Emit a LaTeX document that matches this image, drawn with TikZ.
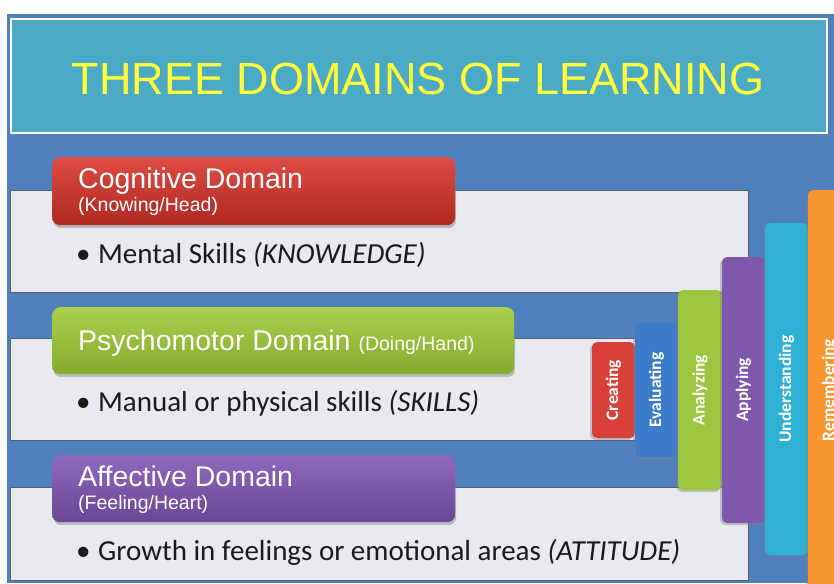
\documentclass[tikz,border=0pt]{standalone}
\usepackage{fontspec}
\setmainfont{Liberation Sans}
\newfontfamily\calib{Carlito}
\usetikzlibrary{shadows}
\definecolor{bgblue}{HTML}{4F7FBD}
\definecolor{titlefill}{HTML}{4AA9C5}
\definecolor{titletext}{HTML}{FFFF3A}
\definecolor{panelfill}{HTML}{E8EAF0}
\definecolor{panelline}{HTML}{56606E}
\definecolor{cogtop}{HTML}{DE4C44}
\definecolor{cogbot}{HTML}{AE2820}
\definecolor{psytop}{HTML}{ABD04C}
\definecolor{psybot}{HTML}{84AA2E}
\definecolor{afftop}{HTML}{8E68BE}
\definecolor{affbot}{HTML}{6A4694}
\definecolor{ccreat}{HTML}{D8403A}
\definecolor{ceval}{HTML}{3B7CCB}
\definecolor{canal}{HTML}{9CC640}
\definecolor{cappl}{HTML}{7F58AC}
\definecolor{cunder}{HTML}{2FB1D6}
\definecolor{cremem}{HTML}{F7962E}
\definecolor{bodytext}{HTML}{1A1A1A}
\tikzset{
  panelbox/.style={draw=panelline, line width=1pt, fill=panelfill, anchor=north west, inner sep=0pt},
  hdrbox/.style={rounded corners=8pt, anchor=north west, inner sep=0pt,
     drop shadow={shadow xshift=1pt, shadow yshift=-3pt, opacity=0.45}},
  hdrtext/.style={anchor=base west, inner sep=0pt, text=white, font=\fontsize{28.5}{32}\selectfont},
  hdrsub/.style={anchor=base west, inner sep=0pt, text=white, font=\fontsize{19.5}{22}\selectfont},
  bodyline/.style={anchor=base west, inner sep=0pt, text=bodytext, font=\calib\fontsize{29}{32}\selectfont},
  barbox/.style={rounded corners=5pt, inner sep=0pt, minimum width=43pt,
     drop shadow={shadow xshift=-2pt, shadow yshift=-2pt, opacity=0.4}},
  bartext/.style={rotate=90, inner sep=0pt, text=white, font=\calib\bfseries\fontsize{17.5}{20}\selectfont}
}
\begin{document}
\begin{tikzpicture}[x=1pt,y=-1pt]
\useasboundingbox (0,0) rectangle (834,583);
\fill[white] (0,0) rectangle (834,583);
\node[fill=bgblue, anchor=north west, inner sep=0pt, minimum width=827pt, minimum height=569pt] (bg) at (7,14) {};
% title
\node[draw=white, line width=2pt, fill=titlefill, anchor=north west, inner sep=0pt,
      minimum width=816pt, minimum height=114pt,
      drop shadow={shadow xshift=1pt, shadow yshift=-2pt, opacity=0.4}] (titlebox) at (10,18) {};
\node[anchor=base, inner sep=0pt, text=titletext, font=\fontsize{45}{50}\selectfont] (title) at (418,95) {THREE DOMAINS OF LEARNING};
% panels
\node[panelbox, minimum width=738pt, minimum height=102pt] (p1) at (10,190) {};
\node[panelbox, minimum width=738pt, minimum height=102pt] (p2) at (10,338) {};
\node[panelbox, minimum width=738pt, minimum height=93pt] (p3) at (10,487) {};
% headers
\node[hdrbox, top color=cogtop, bottom color=cogbot, minimum width=403pt, minimum height=68pt] (cog) at (52,157) {};
\node[hdrtext] (cogt) at (78,188) {Cognitive Domain};
\node[hdrsub] (cogs) at (78,211) {(Knowing/Head)};
\node[hdrbox, top color=psytop, bottom color=psybot, minimum width=462pt, minimum height=67pt] (psy) at (52,307) {};
\node[hdrtext] (psyt) at (78,350) {Psychomotor Domain {\fontsize{19.5}{22}\selectfont (Doing/Hand)}};
\node[hdrbox, top color=afftop, bottom color=affbot, minimum width=403pt, minimum height=67pt] (aff) at (52,455) {};
\node[hdrtext] (afft) at (78,486) {Affective Domain};
\node[hdrsub] (affs) at (78,509) {(Feeling/Heart)};
% body lines
\node[bodyline] (b1) at (76,263) {•\hspace{7.5pt}Mental Skills \textit{(KNOWLEDGE)}};
\node[bodyline] (b2) at (76,411) {•\hspace{7.5pt}Manual or physical skills \textit{(SKILLS)}};
\node[bodyline] (b3) at (76,560) {•\hspace{7.5pt}Growth in feelings or emotional areas \textit{(ATTITUDE)}};
% bars
\node[barbox, fill=ccreat, minimum height=96pt] (creat) at (613.5,390) {};
\node[bartext] (creatt) at (creat.center) {Creating};
\node[barbox, fill=ceval, minimum height=134pt] (eval) at (656.5,390) {};
\node[bartext] (evalt) at (eval.center) {Evaluating};
\node[barbox, fill=canal, minimum width=44pt, minimum height=200pt] (anal) at (700,390) {};
\node[bartext] (analt) at (anal.center) {Analyzing};
\node[barbox, fill=cappl, minimum height=266pt] (appl) at (743.5,390) {};
\node[bartext] (applt) at (appl.center) {Applying};
\node[barbox, fill=cunder, minimum height=332pt] (under) at (786.5,389) {};
\node[bartext] (undert) at (under.center) {Understanding};
\node[barbox, fill=cremem, minimum height=400pt] (remem) at (829.5,390) {};
\node[bartext] (rememt) at (remem.center) {Remembering};
\end{tikzpicture}
\end{document}
